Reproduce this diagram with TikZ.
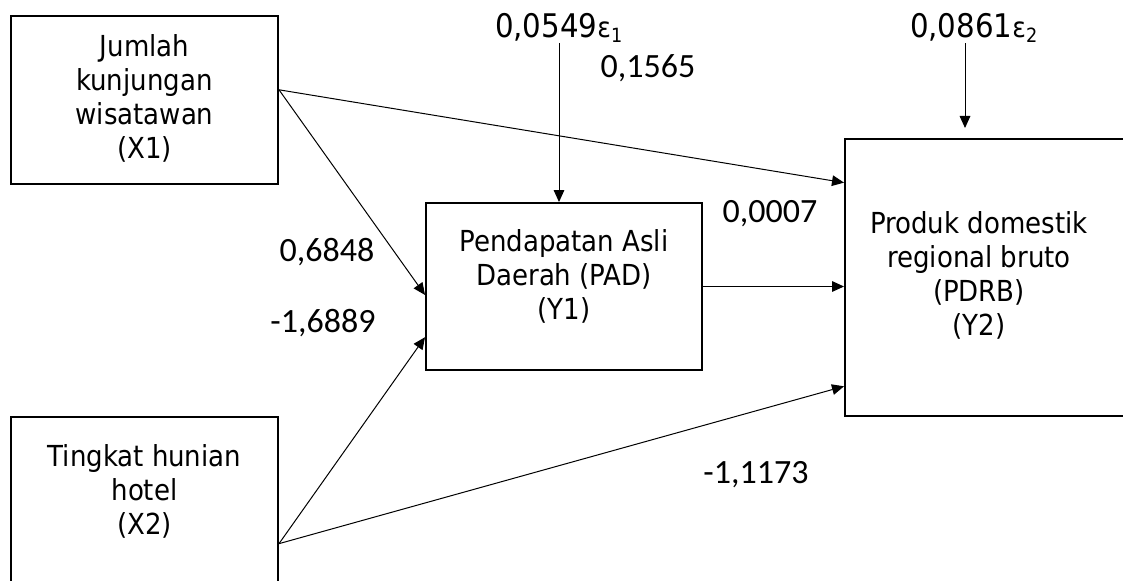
\documentclass[tikz,border=0pt]{standalone}
\usepackage{fontspec}
\setmainfont{DejaVu Sans Condensed}
\newfontfamily\numfont{Carlito}
\usetikzlibrary{arrows.meta,calc}

\tikzset{every picture/.style={line width=0.75pt}}
\newcommand{\epsterm}[1]{{\fontsize{21}{24}\selectfont ε\textsubscript{#1}}}

\begin{document}
\begin{tikzpicture}[x=0.75pt,y=0.75pt,yscale=-1,xscale=1,
  varbox/.style={draw,line width=1.5pt,inner sep=0pt},
  boxtext/.style={align=center,inner sep=0pt,font=\fontsize{21.7}{25.5}\selectfont},
  coef/.style={inner sep=0pt,font=\numfont\fontsize{25.5}{30}\selectfont},
  errlabel/.style={inner sep=0pt,font=\fontsize{24.4}{28}\selectfont},
  link/.style={-{Triangle[length=9pt,width=8pt]}}]
\useasboundingbox (0,0) rectangle (1123,581);
\clip (0,0) rectangle (1123,581);

%Boxes
\node [varbox,minimum width=200.25pt,minimum height=126pt] (x1) at (144.5,100) {};
\node [varbox,minimum width=200.25pt,minimum height=137.25pt] (x2) at (144.5,508.5) {};
\node [varbox,minimum width=207pt,minimum height=125.25pt] (y1) at (564,286.5) {};
\node [varbox,minimum width=213.75pt,minimum height=207.75pt] (y2) at (987.5,277.5) {};

% Box texts
\node [boxtext] (x1text) at (144.5,98) {Jumlah\\kunjungan\\wisatawan\\(X1)};
\node [boxtext] (x2text) at (144.5,491) {Tingkat hunian\\hotel\\(X2)};
\node [boxtext] (y1text) at (564,276) {Pendapatan Asli\\Daerah (PAD)\\(Y1)};
\node [boxtext] (y2text) at (979,275) {Produk domestik\\regional bruto\\(PDRB)\\(Y2)};

% Error terms
\node [errlabel] (e1) at (559,28) {0,0549\epsterm{1}};
\node [errlabel] (e2) at (974,28) {0,0861\epsterm{2}};
\coordinate (e2end) at (965,128);

% Coefficients
\node [coef] (c1) at (648,68) {0,1565};
\node [coef] (c2) at (770,214) {0,0007};
\node [coef] (c3) at (327,252) {0,6848};
\node [coef] (c4) at (323,323) {-1,6889};
\node [coef] (c5) at (756,475) {-1,1173};

% Paths
\coordinate (x1o) at ($(x1.north east)!0.44!(x1.south east)$);
\coordinate (x2o) at ($(x2.north east)!0.69!(x2.south east)$);
\draw [link] (x1o) -- ($(y2.north west)!0.16!(y2.south west)$);
\draw [link] (x1o) -- ($(y1.north west)!0.55!(y1.south west)$);
\draw [link] (x2o) -- ($(y1.north west)!0.80!(y1.south west)$);
\draw [link] (x2o) -- ($(y2.north west)!0.89!(y2.south west)$);
\draw [link] (y1.east) -- (y1.east -| y2.west);
\draw [link] (e1.south) -- (e1.south |- y1.north);
\draw [link] (e2.south -| e2end) -- (e2end);

\end{tikzpicture}
\end{document}
